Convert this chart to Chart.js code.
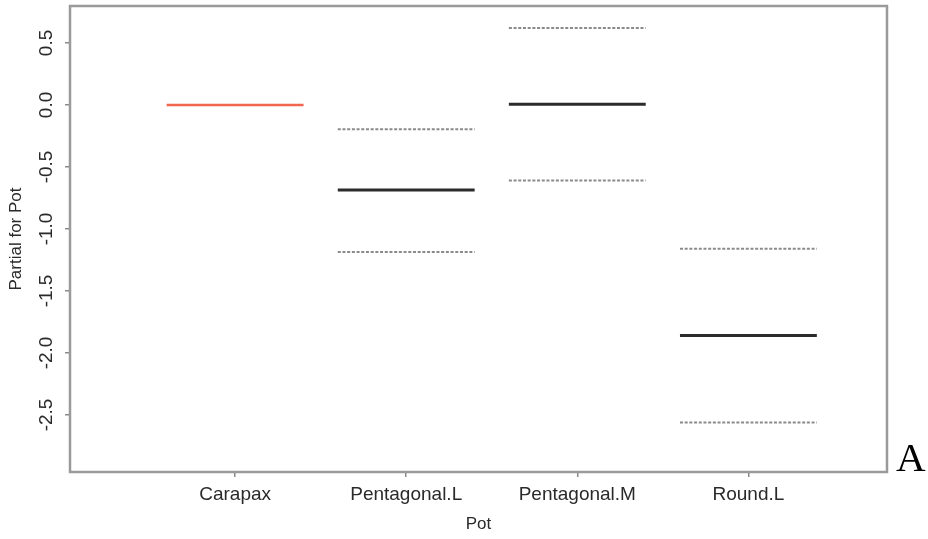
<!DOCTYPE html>
<html>
<head>
<meta charset="utf-8">
<script src="https://cdn.jsdelivr.net/npm/chart.js@4/dist/chart.umd.min.js"></script>
<style>
  html, body { margin: 0; padding: 0; background: #fff; }
  #wrap { width: 928px; height: 539px; }
</style>
</head>
<body>
<div id="wrap"><canvas id="c" width="928" height="539"></canvas></div>
<script>
// termplot-style partial effects for the factor "Pot"
const categories = ['Carapax', 'Pentagonal.L', 'Pentagonal.M', 'Round.L'];
const fitValues = [0.0, -0.685, 0.005, -1.86];
const upperValues = [null, -0.195, 0.62, -1.16];
const lowerValues = [null, -1.185, -0.61, -2.56];
const yTicks = [-2.5, -2.0, -1.5, -1.0, -0.5, 0.0, 0.5];

const half = 0.4;
const FONT = '"Liberation Sans", Arial, Helvetica, sans-serif';

function segment(i, v) {
  return [{ x: i + 1 - half, y: v }, { x: i + 1 + half, y: v }];
}

const datasets = [];
categories.forEach((c, i) => {
  datasets.push({
    label: c,
    data: segment(i, fitValues[i]),
    borderColor: i === 0 ? '#f2664f' : '#2b2b2b',
    borderWidth: i === 0 ? 2.5 : 3
  });
  if (upperValues[i] !== null) {
    datasets.push({ label: c + ' +2se', data: segment(i, upperValues[i]), borderColor: '#8a8a8a', borderWidth: 2, borderDash: [3, 1.7] });
    datasets.push({ label: c + ' -2se', data: segment(i, lowerValues[i]), borderColor: '#8a8a8a', borderWidth: 2, borderDash: [3, 1.7] });
  }
});

const textPlugin = {
  id: 'rtext',
  afterDraw(chart) {
    const ctx = chart.ctx;
    const a = chart.chartArea;
    const ys = chart.scales.y;
    ctx.save();
    // frame
    ctx.strokeStyle = '#9a9a9a';
    ctx.lineWidth = 2.5;
    ctx.strokeRect(a.left, a.top, a.right - a.left, a.bottom - a.top);
    // y tick labels, rotated
    ctx.fillStyle = '#2a2a2a';
    ctx.font = '19px ' + FONT;
    ctx.textAlign = 'center';
    ctx.textBaseline = 'middle';
    yTicks.forEach(t => {
      ctx.save();
      ctx.translate(47, ys.getPixelForValue(t));
      ctx.rotate(-Math.PI / 2);
      ctx.fillText(t.toFixed(1), 0, 0);
      ctx.restore();
    });
    // axis titles
    ctx.font = '17px ' + FONT;
    ctx.fillText('Pot', (a.left + a.right) / 2, 524);
    ctx.save();
    ctx.translate(16, (a.top + a.bottom) / 2);
    ctx.rotate(-Math.PI / 2);
    ctx.fillText('Partial for Pot', 0, 0);
    ctx.restore();
    // panel letter
    ctx.fillStyle = '#000';
    ctx.font = '41px "Liberation Serif", "Times New Roman", serif';
    ctx.textAlign = 'left';
    ctx.textBaseline = 'alphabetic';
    ctx.fillText('A', 896, 471);
    ctx.restore();
  }
};

new Chart(document.getElementById('c'), {
  type: 'line',
  data: { datasets },
  plugins: [textPlugin],
  options: {
    responsive: false,
    animation: false,
    devicePixelRatio: 1,
    layout: { padding: { left: 0, top: 6, right: 41, bottom: 0 } },
    elements: { point: { radius: 0 }, line: { tension: 0, borderCapStyle: 'butt' } },
    plugins: { legend: { display: false }, tooltip: { enabled: false } },
    scales: {
      x: {
        type: 'linear',
        min: 0.035,
        max: 4.81,
        afterBuildTicks: s => { s.ticks = categories.map((c, i) => ({ value: i + 1 })); },
        afterFit: s => { s.height = 67; },
        grid: { display: true, drawOnChartArea: false, drawTicks: true, tickLength: 5, color: '#8a8a8a', lineWidth: 1.5 },
        border: { display: false },
        ticks: {
          callback: v => categories[Math.round(v) - 1],
          font: { size: 19, family: FONT },
          color: '#2a2a2a',
          padding: 6,
          maxRotation: 0,
          autoSkip: false
        }
      },
      y: {
        type: 'linear',
        min: -2.96,
        max: 0.798,
        afterBuildTicks: s => { s.ticks = yTicks.map(v => ({ value: v })); },
        afterFit: s => { s.width = 70; },
        grid: { display: true, drawOnChartArea: false, drawTicks: true, tickLength: 5, color: '#8a8a8a', lineWidth: 1.5 },
        border: { display: false },
        ticks: { display: false }
      }
    }
  }
});
</script>
</body>
</html>
